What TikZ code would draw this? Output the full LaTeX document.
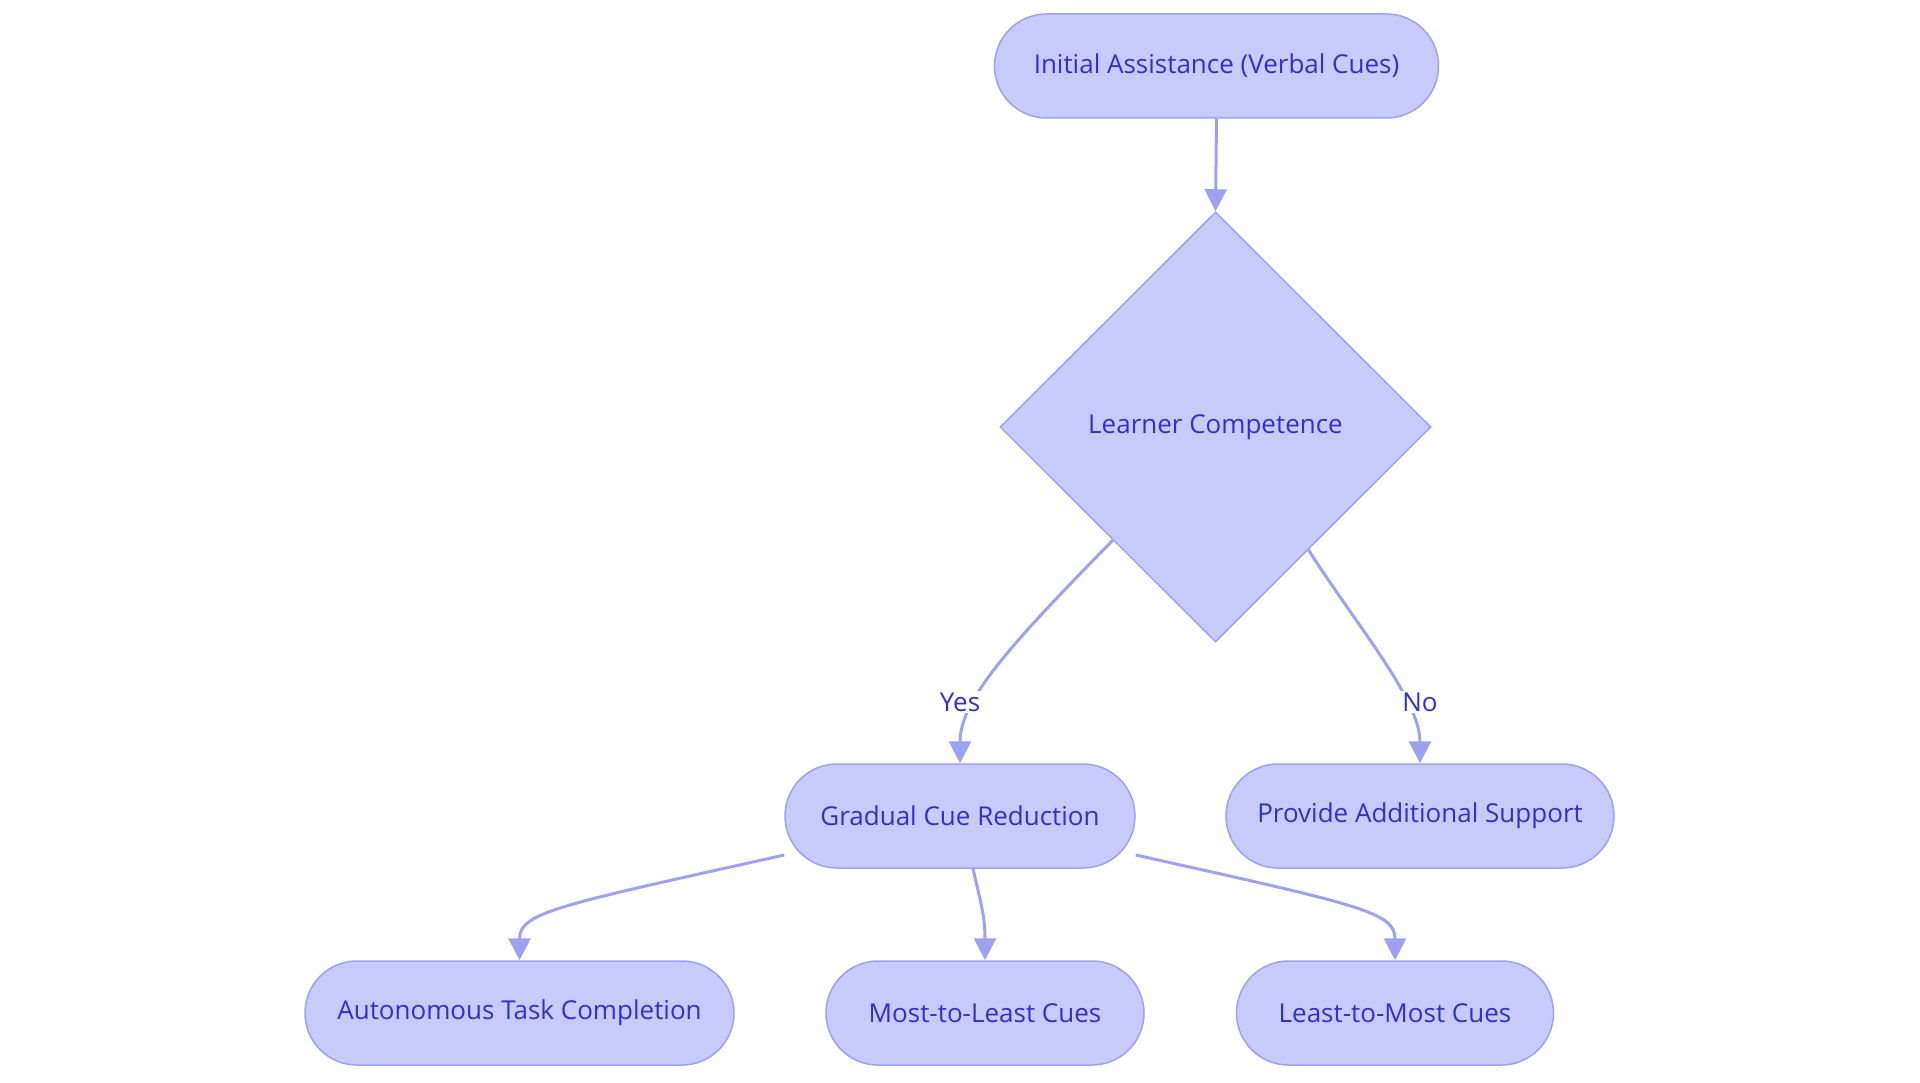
\documentclass[tikz,border=0pt]{standalone}
\usepackage{fontspec}
\setmainfont{Open Sans}
\usetikzlibrary{shapes.geometric,arrows.meta,calc}
\definecolor{nfill}{HTML}{C9CAFC}
\definecolor{nline}{HTML}{9DA1F0}
\definecolor{ntext}{HTML}{2E32C8}
\begin{document}
\begin{tikzpicture}[x=1pt,y=-1pt,
  every node/.style={font=\fontsize{26}{31}\selectfont, text=ntext},
  pill/.style={draw=nline, line width=1.5pt, fill=nfill, rounded corners=52pt,
    minimum height=104pt, inner sep=0pt},
  decide/.style={diamond, draw=nline, line width=1.5pt, fill=nfill,
    minimum width=431pt, minimum height=430pt, inner sep=0pt},
  edge/.style={draw=nline, line width=3pt, -{Triangle[length=22pt,width=22pt]}},
  lbl/.style={fill=white, inner sep=2pt}]
\useasboundingbox (0,0) rectangle (1920,1083);
\node[pill, minimum width=444pt] (init) at (1216.5,66) {Initial Assistance (Verbal Cues)};
\node[decide] (dia) at (1215.5,427) {Learner Competence};
\node[pill, minimum width=350pt] (gcr) at (960,816) {Gradual Cue Reduction};
\node[pill, minimum width=388pt] (pas) at (1420,816) {Provide Additional Support};
\node[pill, minimum width=429pt] (aut) at (519.5,1013) {Autonomous Task Completion};
\node[pill, minimum width=318pt] (mtl) at (985,1013) {Most-to-Least Cues};
\node[pill, minimum width=317pt] (ltm) at (1395,1013) {Least-to-Most Cues};

\draw[edge] (init.south) -- (dia.north);
\draw[edge] ($(dia.west)!0.525!(dia.south)$) .. controls (1010,645) and (960,700) .. (gcr.north);
\draw[edge] ($(dia.south)!0.43!(dia.east)$) .. controls (1360,630) and (1420,700) .. (pas.north);
\draw[edge] ([yshift=-39pt]gcr.west) .. controls (560,905) and (519.5,912) .. (aut.north);
\draw[edge] ([xshift=13pt]gcr.south) .. controls (980,900) and (985,915) .. (mtl.north);
\draw[edge] ([yshift=-39pt]gcr.east) .. controls (1360,905) and (1395,912) .. (ltm.north);

\node[lbl] (yes) at (960,702) {Yes};
\node[lbl] (no) at (1420,702) {No};
\end{tikzpicture}
\end{document}
